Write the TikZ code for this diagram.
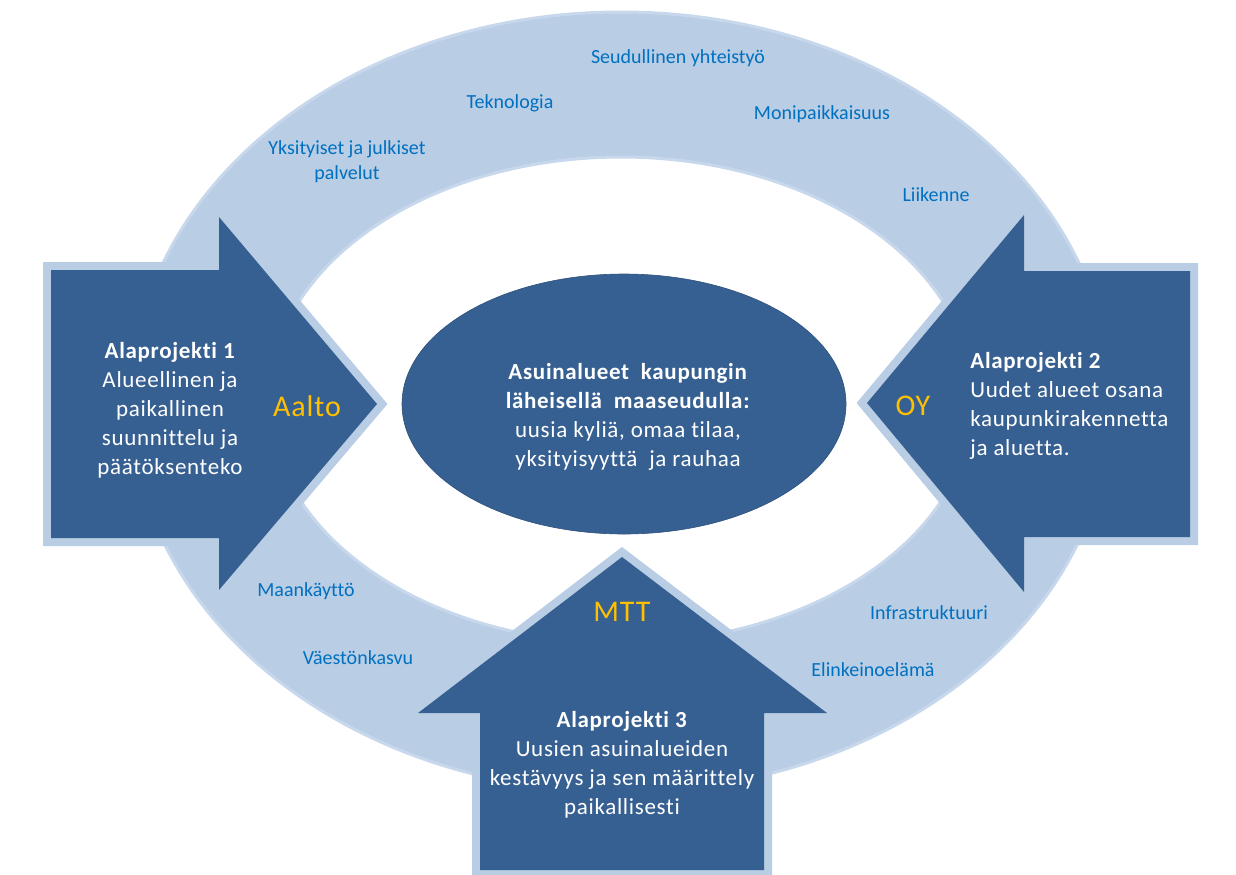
\documentclass[tikz,border=0pt]{standalone}
\usepackage{fontspec}
\setmainfont[Ligatures=NoCommon]{Carlito}
\newfontfamily\spacedfont[LetterSpace=3, Ligatures=NoCommon]{Carlito}
\usetikzlibrary{shapes.geometric}
\definecolor{ringBlue}{HTML}{B9CDE5}
\definecolor{ringEdge}{HTML}{C8D8EC}
\definecolor{arrowBlue}{HTML}{376092}
\definecolor{labelBlue}{HTML}{0070C0}
\definecolor{partnerGold}{HTML}{FFC000}

\begin{document}
\begin{tikzpicture}
[x=0.5pt, y=-0.5pt,
 ringLabel/.style={text=labelBlue, font=\fontsize{10}{12.5}\selectfont, align=center, inner sep=0pt},
 arrowDecorate/.style={fill=arrowBlue, preaction={draw=ringBlue, line width=8pt}},
 bodyText/.style={text=white, font=\spacedfont\fontsize{11.5}{14.5}\selectfont, inner sep=0pt},
 partnerText/.style={text=partnerGold, font=\spacedfont\fontsize{15}{18}\selectfont, inner sep=0pt}]
\useasboundingbox (0,0) rectangle (1236,874);
%% ring
\fill[ringBlue, even odd rule, draw=ringEdge, line width=1.5pt]
  (621,402) ellipse [x radius=490, y radius=390]
  (621,400) ellipse [x radius=352, y radius=243];
%% topics on the ring
\foreach \nodename/\x/\y/\txt in {
  regio/678/58/{Seudullinen yhteistyö}, tech/510/103/Teknologia,
  multi/822/114/Monipaikkaisuus, serv/347/162/{Yksityiset ja julkiset\\palvelut},
  traffic/936/195/Liikenne, land/306/591/Maankäyttö,
  pop/358/658/Väestönkasvu, infra/929/613/Infrastruktuuri,
  busi/873/670/Elinkeinoelämä}
{
  \node (\nodename) at (\x,\y) [ringLabel] {\txt};
}
%% arrows
\path[arrowDecorate] (51,270) -- (219,270) -- (219,217) -- (377,404)
  -- (219,590) -- (219,538) -- (51,538) -- cycle;
\path[arrowDecorate] (1190,271) -- (1024,271) -- (1024,215) -- (867,403)
  -- (1024,592) -- (1024,537) -- (1190,537) -- cycle;
\path[arrowDecorate] (480,870) -- (480,713) -- (418,713) -- (622,557)
  -- (827,713) -- (764,713) -- (764,870) -- cycle;
%% centre
\node (centre) at (624,404) [ellipse, minimum width=222pt, minimum height=130pt,
  fill=arrowBlue, draw=arrowBlue!85!black, line width=0.3pt] {};
\node (centreText) at (628,417) [bodyText, align=center]
  {\textbf{Asuinalueet\ \ kaupungin}\\\textbf{läheisellä\ \ maaseudulla:}\\
   uusia kyliä, omaa tilaa,\\yksityisyyttä\ \ ja rauhaa};
%% sub-projects
\node (sub1) at (170,410) [bodyText, align=center]
  {\textbf{Alaprojekti 1}\\Alueellinen ja\\paikallinen\\suunnittelu ja\\päätöksenteko};
\node (sub2) at (970,406) [bodyText, align=left, anchor=west]
  {\textbf{Alaprojekti 2}\\Uudet alueet osana\\kaupunkirakennetta\\ja aluetta.};
\node (sub3) at (622,765) [bodyText, align=center]
  {\textbf{Alaprojekti 3}\\Uusien asuinalueiden\\kestävyys ja sen määrittely\\paikallisesti};
%% partners
\node (aalto) at (307,406) [partnerText] {Aalto};
\node (oy) at (913,406) [partnerText] {OY};
\node (mtt) at (622,612) [partnerText] {MTT};
\end{tikzpicture}
\end{document}
